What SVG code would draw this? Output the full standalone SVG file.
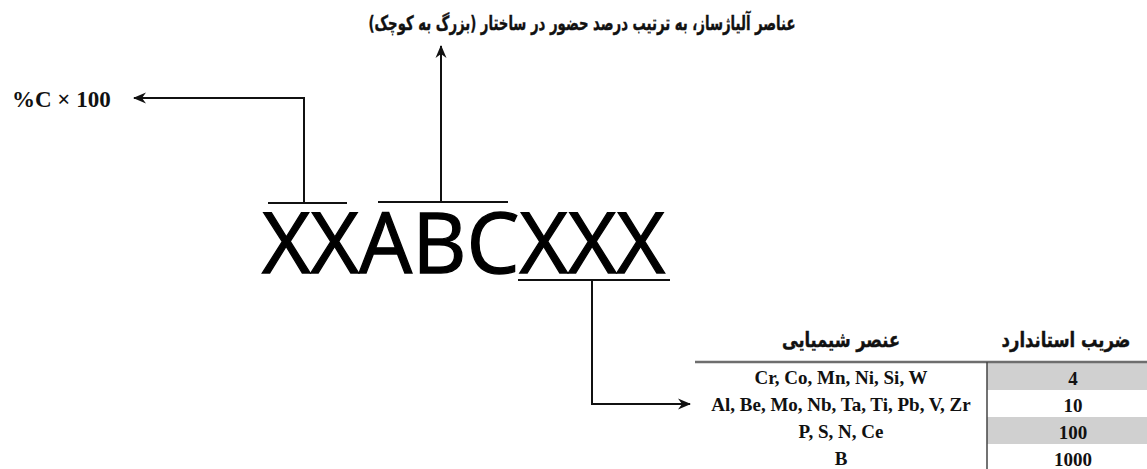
<svg xmlns="http://www.w3.org/2000/svg" width="1147" height="469" viewBox="0 0 1147 469">
<defs>
<marker id="ah" markerWidth="14" markerHeight="14" refX="12" refY="7" orient="auto" markerUnits="userSpaceOnUse">
<path d="M0,1.5 L13,7 L0,12.5 L4,7 z" fill="#111"/>
</marker>
<style>
.fa{font-family:"DejaVu Sans",sans-serif;font-weight:bold;fill:#111;stroke:#111;stroke-width:0.4}
.tm{font-family:"Liberation Serif",serif;font-weight:bold;fill:#111}
.ln{stroke:#111;stroke-width:2;fill:none}
.code{font-family:"Open Sans",sans-serif;font-size:84px;fill:#000;stroke:#000;stroke-width:1.3}
.gray{fill:#d0d0d0}
</style>
</defs>
<rect width="1147" height="469" fill="#fff"/>
<g id="title">
<text class="fa" x="582" y="30" font-size="20" text-anchor="middle" direction="rtl" textLength="427" lengthAdjust="spacingAndGlyphs">عناصر آلیاژساز، به ترتیب درصد حضور در ساختار (بزرگ به کوچک)</text>
</g>
<g id="carbon">
<text class="tm" x="12" y="107" font-size="23">%C × 100</text>
</g>
<g id="code">
<text class="code" x="262" y="273" textLength="403" lengthAdjust="spacingAndGlyphs">XXABCXXX</text>
<path class="ln" d="M268,203 H347 M378,202 H508 M518,280 H670"/>
</g>
<g id="connectors">
<path class="ln" d="M304,203 V98 H134" marker-end="url(#ah)"/>
<path class="ln" d="M441,202 V46" marker-end="url(#ah)"/>
<path class="ln" d="M592,280 V404 H690" marker-end="url(#ah)"/>
</g>
<g id="table">
<rect class="gray" x="987" y="363" width="160" height="27"/>
<rect class="gray" x="987" y="417" width="160" height="27"/>
<line x1="695" y1="362" x2="1147" y2="362" stroke="#6e6e6e" stroke-width="2.5"/>
<line x1="987" y1="362" x2="987" y2="469" stroke="#444" stroke-width="1.5"/>
<text class="fa" x="841" y="347" font-size="21" text-anchor="middle" direction="rtl" textLength="118" lengthAdjust="spacingAndGlyphs">عنصر شیمیایی</text>
<text class="fa" transform="translate(1066,347) scale(0.78,1)" x="0" y="0" font-size="21" text-anchor="middle" direction="rtl">ضریب استاندارد</text>
<g class="tm" font-size="19" text-anchor="middle">
<text x="841" y="384">Cr, Co, Mn, Ni, Si, W</text>
<text x="841" y="411">Al, Be, Mo, Nb, Ta, Ti, Pb, V, Zr</text>
<text x="841" y="438">P, S, N, Ce</text>
<text x="841" y="465">B</text>
<text x="1073" y="385">4</text>
<text x="1073" y="412">10</text>
<text x="1073" y="439">100</text>
<text x="1073" y="466">1000</text>
</g>
</g>
</svg>
